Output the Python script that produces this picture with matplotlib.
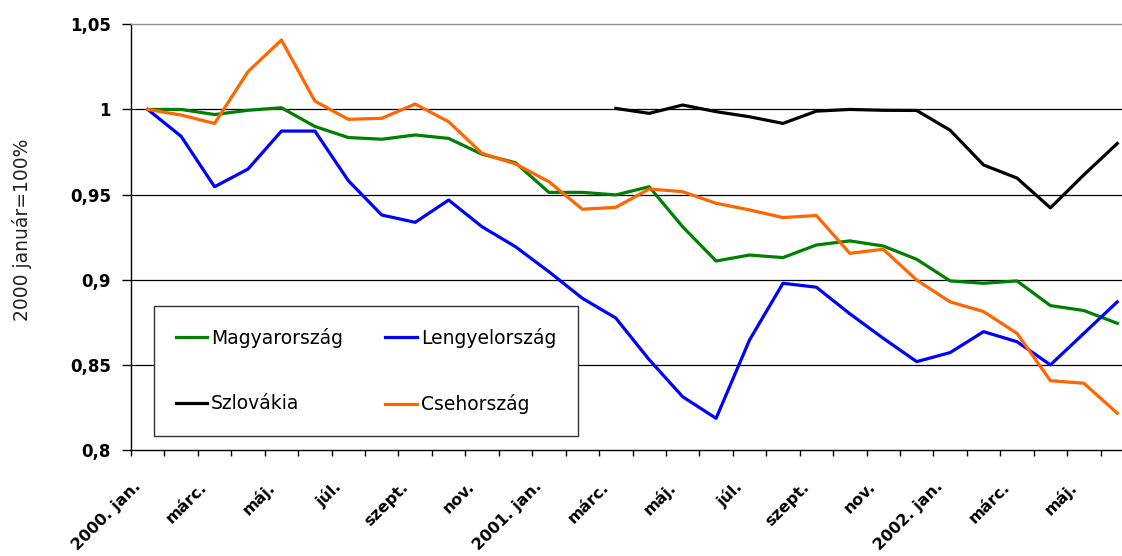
import numpy as np
import matplotlib
matplotlib.use('Agg')
import matplotlib.pyplot as plt
import matplotlib.transforms as mtransforms
from matplotlib.ticker import FuncFormatter

# havi indexek, 2000. jan. = 1
honapok = ['2000. jan.', 'febr.', 'márc.', 'ápr.', 'máj.', 'jún.',
           'júl.', 'aug.', 'szept.', 'okt.', 'nov.', 'dec.',
           '2001. jan.', 'febr.', 'márc.', 'ápr.', 'máj.', 'jún.',
           'júl.', 'aug.', 'szept.', 'okt.', 'nov.', 'dec.',
           '2002. jan.', 'febr.', 'márc.', 'ápr.', 'máj.', 'jún.']

magyarorszag = [1.000, 1.000, 0.997, 0.9995, 1.001, 0.990, 0.9835, 0.9825,
                0.985, 0.983, 0.9737, 0.9687, 0.9513, 0.9513, 0.9498, 0.9546,
                0.9311, 0.911, 0.9145, 0.913, 0.9204, 0.9228, 0.9198, 0.912,
                0.8993, 0.8979, 0.8993, 0.8848, 0.8819, 0.8744]

lengyelorszag = [1.000, 0.9842, 0.9546, 0.965, 0.9873, 0.9873, 0.9582, 0.938,
                 0.9337, 0.9468, 0.9311, 0.9194, 0.9047, 0.8891, 0.8775, 0.853,
                 0.8313, 0.8186, 0.8646, 0.8979, 0.8956, 0.880, 0.8656, 0.8519,
                 0.8572, 0.8695, 0.8636, 0.850, 0.8685, 0.887]

# Szlovákia csak 2001. márc.-tól
szlovakia_kezdet = 14
szlovakia = [1.0006, 0.9977, 1.0026, 0.9987, 0.9957, 0.9918, 0.999, 1.000,
             0.9995, 0.9994, 0.9878, 0.9674, 0.9597, 0.9422, 0.9616, 0.980]

csehorszag = [1.000, 0.9967, 0.9918, 1.0222, 1.0408, 1.0049, 0.9942, 0.9948,
              1.0032, 0.9928, 0.9742, 0.968, 0.9576, 0.9414, 0.9425, 0.9533,
              0.9517, 0.9449, 0.941, 0.9365, 0.9377, 0.9155, 0.9179, 0.8998,
              0.887, 0.8813, 0.8685, 0.8407, 0.8392, 0.8216]

W, H = 1122, 556
fig = plt.figure(figsize=(W / 100, H / 100), dpi=100)
ax = fig.add_axes([131 / W, 1 - 450 / H, 1003 / W, 425.7 / H])

x = np.arange(len(honapok))
lw = 2.3
l_hu, = ax.plot(x, magyarorszag, color='#008000', lw=lw, label='Magyarország')
l_pl, = ax.plot(x, lengyelorszag, color='#0000ff', lw=lw, label='Lengyelország')
l_sk, = ax.plot(x[szlovakia_kezdet:], szlovakia, color='black', lw=lw, label='Szlovákia')
l_cz, = ax.plot(x, csehorszag, color='#ff6600', lw=lw, label='Csehország')

ax.set_xlim(-0.5, len(honapok) - 0.5)
ax.set_ylim(0.8, 1.05)

# y tengely
yticks = [0.8, 0.85, 0.9, 0.95, 1.0, 1.05]
ax.set_yticks(yticks)
ax.yaxis.set_major_formatter(FuncFormatter(lambda v, p: f'{v:g}'.replace('.', ',')))
for y in yticks[1:-1]:
    ax.axhline(y, color='black', lw=0.9, zorder=0)

ax.spines['top'].set_color('#909090')
ax.spines['top'].set_linewidth(1.0)
ax.spines['right'].set_visible(False)
ax.spines['left'].set_linewidth(1.0)
ax.spines['bottom'].set_linewidth(1.0)

ax.tick_params(axis='y', length=6.5, width=1.0, pad=8, labelsize=12)
for lab in ax.get_yticklabels():
    lab.set_fontweight('bold')

# x tengely: osztásjelek a kategóriák között, címke minden második hónapnál
ax.set_xticks(np.arange(-0.5, len(honapok), 1), minor=True)
ax.set_xticks([])
ax.tick_params(axis='x', which='minor', length=4, width=1.0)

cimke_tr = ax.get_xaxis_transform() + mtransforms.ScaledTranslation(
    -15 / 100, -29 / 100, fig.dpi_scale_trans)
for i in x[::2]:
    ax.text(i, 0, honapok[i], transform=cimke_tr, rotation=45,
            rotation_mode='anchor', ha='right', va='top',
            fontsize=11.5, fontweight='bold', clip_on=False)

fig.text(22.5 / W, 1 - 230 / H, '2000 január=100%', rotation=90,
         ha='center', va='center', fontsize=13.5, color='#222222')

leg = ax.legend(handles=[l_hu, l_sk, l_pl, l_cz], ncol=2, loc='upper left',
                bbox_to_anchor=(0.0229, 0.0305, 0.4228, 0.3078), mode='expand',
                fancybox=False, edgecolor='#333333', framealpha=1, fontsize=13.5,
                handlelength=1.7, handletextpad=0.2, labelspacing=2.5,
                borderpad=1.15, borderaxespad=0)
leg.get_frame().set_linewidth(1.0)

fig.savefig('out.png', dpi=100)
